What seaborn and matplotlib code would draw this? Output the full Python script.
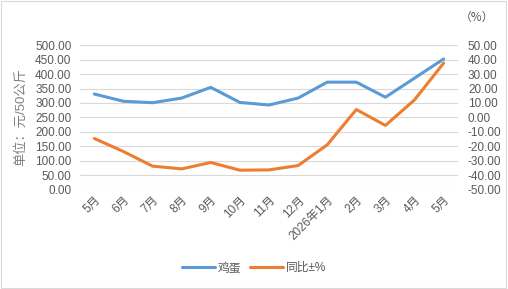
import numpy as np
import pandas as pd
import matplotlib
matplotlib.use('Agg')
import matplotlib.pyplot as plt
import seaborn as sns
from matplotlib.patches import Rectangle

sns.set_style('white')
plt.rcParams['font.family'] = ['Liberation Sans', 'Noto Sans CJK SC', 'DejaVu Sans']

months = ['5月', '6月', '7月', '8月', '9月', '10月', '11月', '12月',
          '2026年1月', '2月', '3月', '4月', '5月']
egg = [331, 306, 301, 317, 354, 302, 293, 317, 372, 372, 320, 386, 452]
yoy = [-14.5, -23.5, -33.6, -35.5, -31.1, -36.4, -36.2, -33.2, -18.9, 5.5, -5.5, 12.2, 37.6]

blue = '#5B9BD5'
orange = '#ED7D31'
grey = '#595959'

df = pd.DataFrame({'x': np.arange(len(months)), 'egg': egg, 'yoy': yoy})

fig = plt.figure(figsize=(5.08, 2.89), dpi=100)
ax = fig.add_axes([0.157, 0.343, 0.745, 0.501])
ax2 = ax.twinx()

sns.lineplot(data=df, x='x', y='egg', ax=ax, color=blue, linewidth=2.2, label='鸡蛋', legend=False)
sns.lineplot(data=df, x='x', y='yoy', ax=ax2, color=orange, linewidth=2.2, label='同比±%', legend=False)

ax.set_ylim(0, 500)
ax.set_yticks(np.arange(0, 501, 50))
ax.set_yticklabels([f'{v:.2f}' for v in np.arange(0, 501, 50)])
ax2.set_ylim(-50, 50)
ax2.set_yticks(np.arange(-50, 51, 10))
ax2.set_yticklabels([f'{v:.2f}' for v in np.arange(-50, 51, 10)])
ax.set_xlim(-0.5, len(months) - 0.5)
ax.set_xticks(df['x'])
ax.set_xticklabels(months, rotation=45, ha='right', rotation_mode='anchor')

ax.grid(axis='y', color='#D9D9D9', linewidth=0.8)
ax.set_axisbelow(True)
for a in (ax, ax2):
    for s in a.spines.values():
        s.set_visible(False)
    a.tick_params(axis='both', length=0, labelsize=8.5, labelcolor=grey, pad=6)
ax.tick_params(axis='x', pad=3)
ax2.tick_params(axis='y', pad=7)

ax.set_xlabel('')
ax.set_ylabel('单位：元/50公斤', color='#808080', fontsize=9.5, labelpad=6)
ax2.set_ylabel('')

fig.text(0.905, 0.94, '（%）', fontsize=8.5, color=grey, ha='left', va='center',
         family=['Noto Sans CJK SC', 'DejaVu Sans'])

h1, l1 = ax.get_legend_handles_labels()
h2, l2 = ax2.get_legend_handles_labels()
fig.legend(h1 + h2, l1 + l2, loc='center', bbox_to_anchor=(0.5, 0.072), ncol=2,
           frameon=False, fontsize=8.5, labelcolor=grey, handlelength=2.8,
           handletextpad=0.2, columnspacing=0.8)

fig.patches.append(Rectangle((0.002, 0.003), 0.995, 0.994, transform=fig.transFigure,
                             fill=False, edgecolor='#D9D9D9', linewidth=0.8))

fig.savefig('out.png', dpi=100)
